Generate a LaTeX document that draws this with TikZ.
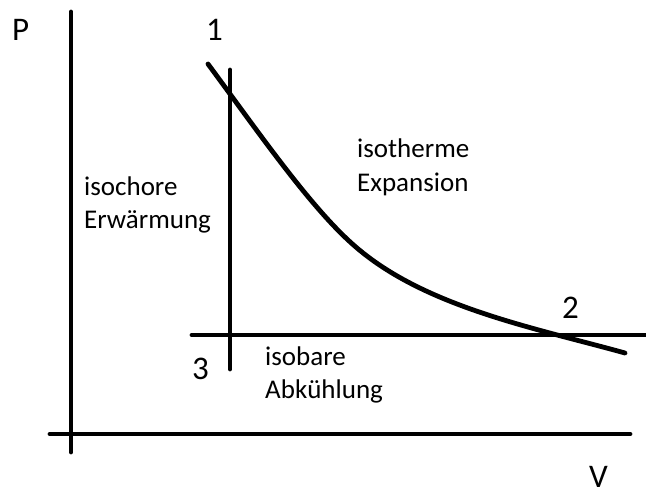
\documentclass[tikz,border=0pt]{standalone}
\usepackage{fontspec}
\setmainfont{Carlito}
\begin{document}
\begin{tikzpicture}[x=1pt,y=-1pt,
  stroke/.style={line width=4.8pt,line cap=round},
  biglabel/.style={font=\fontsize{33}{40}\selectfont,inner sep=0pt,anchor=base west},
  txt/.style={font=\fontsize{27}{33}\selectfont,inner sep=0pt,anchor=base west}]
\useasboundingbox (0,0) rectangle (646,493);
% axes
\coordinate (ytop) at (71,12);
\coordinate (ybot) at (71,452);
\coordinate (xl) at (50,434);
\coordinate (xr) at (630,434);
\draw[stroke] (ytop) -- (ybot);
\draw[stroke] (xl) -- (xr);
% isochore
\coordinate (vtop) at (230,70);
\coordinate (vbot) at (230,369);
\draw[stroke] (vtop) -- (vbot);
% isobar
\coordinate (hl) at (192,335);
\coordinate (hr) at (648,335);
\draw[stroke] (hl) -- (hr);
% isotherm
\coordinate (c1) at (208,64);
\coordinate (cm) at (357,248);
\coordinate (c2) at (625,353);
\draw[stroke] (c1) .. controls (258,131.5) and (312,210) .. (cm)
  .. controls (427,307.5) and (535,328) .. (c2);
% labels
\node[biglabel] (P) at (12,40) {P};
\node[biglabel] (n1) at (206,40) {1};
\node[biglabel] (n2) at (562,318) {2};
\node[biglabel] (n3) at (192,379) {3};
\node[biglabel] (V) at (589,487) {V};
\node[txt] (iso1) at (84,195) {isochore};
\node[txt] (iso2) at (84,228) {Erwärmung};
\node[txt] (ith1) at (357,157) {isotherme};
\node[txt] (ith2) at (357,191) {Expansion};
\node[txt] (ib1) at (265,365) {isobare};
\node[txt] (ib2) at (265,398) {Abkühlung};
\end{tikzpicture}
\end{document}
